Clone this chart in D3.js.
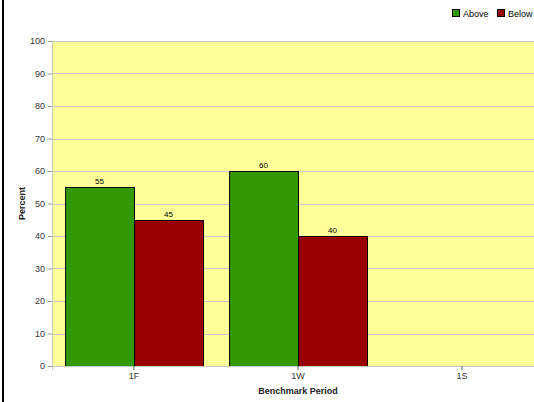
<!DOCTYPE html>
<html>
<head>
<meta charset="utf-8">
<script src="https://cdn.jsdelivr.net/npm/d3@7/dist/d3.min.js"></script>
<style>
  body { margin: 0; background: #fff; }
  svg { display: block; font-family: "Liberation Sans", Arial, sans-serif; }
</style>
</head>
<body>
<div id="chart"></div>
<script>
// data
const periods = ["1F", "1W", "1S"];
const seriesNames = ["Above", "Below"];
const aboveValues = [55, 60, null];
const belowValues = [45, 40, null];
const yTicks = [0, 10, 20, 30, 40, 50, 60, 70, 80, 90, 100];

const colors = { Above: "#339900", Below: "#990000" };

const W = 534, H = 402;
const margin = { top: 41, left: 52, bottom: 36 };
const plotW = 492, plotH = 325;

const svg = d3.select("#chart").append("svg")
    .attr("width", W)
    .attr("height", H);

// left border
svg.append("rect")
    .attr("x", 2).attr("y", 0)
    .attr("width", 2).attr("height", H)
    .attr("fill", "#000");

const g = svg.append("g")
    .attr("transform", `translate(${margin.left}, ${margin.top})`);

const x = d3.scaleBand()
    .domain(periods)
    .range([0, plotW])
    .paddingInner(0.16)
    .paddingOuter(0.08);

const xSub = d3.scaleBand()
    .domain(seriesNames)
    .range([0, x.bandwidth()]);

const y = d3.scaleLinear()
    .domain([0, 100])
    .range([plotH, 0]);

// plot background
g.append("rect")
    .attr("width", plotW)
    .attr("height", plotH)
    .attr("fill", "#ffff99");

// gridlines
g.append("g")
    .selectAll("line")
    .data(yTicks)
    .enter()
    .append("line")
    .attr("x1", 0).attr("x2", plotW)
    .attr("y1", d => Math.round(y(d)) + 0.5)
    .attr("y2", d => Math.round(y(d)) + 0.5)
    .attr("stroke", "#c8c8c8");

// y axis
const yAxis = g.append("g")
    .call(d3.axisLeft(y).tickValues(yTicks).tickSize(4).tickPadding(3));
yAxis.select(".domain").attr("stroke", "#c8c8c8");
yAxis.selectAll(".tick line").attr("stroke", "#999");
yAxis.selectAll("text")
    .attr("fill", "#333")
    .style("font-size", "9px");

// bars
const rows = periods.map((p, i) => ({
    period: p,
    values: [
        { key: "Above", value: aboveValues[i] },
        { key: "Below", value: belowValues[i] }
    ]
}));

const groups = g.append("g")
    .selectAll("g")
    .data(rows)
    .enter()
    .append("g")
    .attr("transform", d => `translate(${x(d.period)}, 0)`);

const barData = groups.selectAll("rect")
    .data(d => d.values.filter(v => v.value != null))
    .enter();

barData.append("rect")
    .attr("x", d => Math.round(xSub(d.key)) + 0.5)
    .attr("y", d => Math.round(y(d.value)) + 0.5)
    .attr("width", xSub.bandwidth())
    .attr("height", d => Math.round(plotH - y(d.value)))
    .attr("fill", d => colors[d.key])
    .attr("stroke", "#000")
    .attr("stroke-width", 1);

groups.selectAll("text.val")
    .data(d => d.values.filter(v => v.value != null))
    .enter()
    .append("text")
    .attr("class", "val")
    .attr("x", d => xSub(d.key) + xSub.bandwidth() / 2)
    .attr("y", d => y(d.value) - 3)
    .attr("text-anchor", "middle")
    .style("font-size", "8px")
    .attr("fill", "#000")
    .text(d => d.value);

// x axis
const xAxis = g.append("g")
    .attr("transform", `translate(0, ${plotH})`)
    .call(d3.axisBottom(x).tickSize(4).tickPadding(3));
xAxis.select(".domain").attr("stroke", "#c8c8c8");
xAxis.selectAll(".tick line").attr("stroke", "#666");
xAxis.selectAll("text")
    .attr("fill", "#333")
    .style("font-size", "9px");

// axis titles
svg.append("text")
    .attr("transform", `translate(25, ${margin.top + plotH / 2}) rotate(-90)`)
    .attr("text-anchor", "middle")
    .style("font-size", "9px")
    .style("font-weight", "bold")
    .attr("fill", "#222")
    .text("Percent");

svg.append("text")
    .attr("x", margin.left + plotW / 2)
    .attr("y", 394)
    .attr("text-anchor", "middle")
    .style("font-size", "9px")
    .style("font-weight", "bold")
    .attr("fill", "#222")
    .text("Benchmark Period");

// legend
const legend = svg.append("g")
    .selectAll("g")
    .data(seriesNames)
    .enter()
    .append("g")
    .attr("transform", (d, i) => `translate(${452 + i * 45}, 9)`);

legend.append("rect")
    .attr("x", 0.5).attr("y", 0.5)
    .attr("width", 7).attr("height", 7)
    .attr("fill", d => colors[d])
    .attr("stroke", "#000");

legend.append("text")
    .attr("x", 11)
    .attr("y", 8)
    .style("font-size", "9px")
    .attr("fill", "#000")
    .text(d => d);
</script>
</body>
</html>
